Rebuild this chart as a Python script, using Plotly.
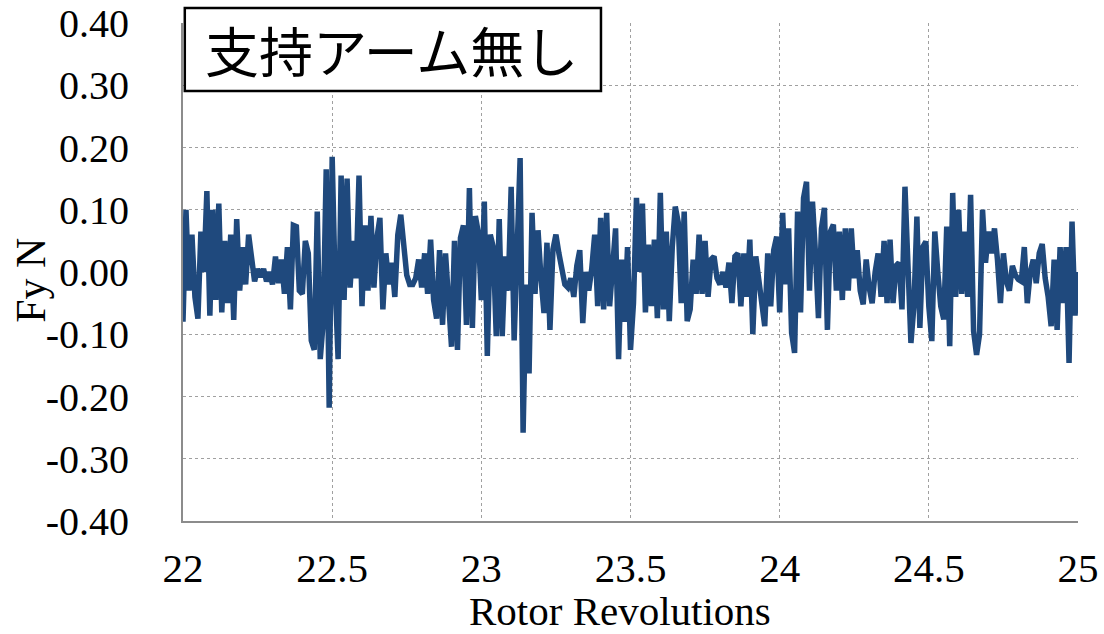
import plotly.graph_objects as go
import numpy as np

# Lateral force Fy [N] sampled every 0.01 rotor revolution from 22.00 to 25.00
REV_START = 22.0
REV_STEP = 0.01
fy = [
    # 22.00 - 22.37
    -0.08, 0.10, -0.03, 0.06, -0.04, -0.075, 0.065, 0.0, 0.13, -0.07,
    0.10, -0.045, 0.11, -0.065, 0.05, -0.05, 0.06, -0.077, 0.085, -0.03,
    0.04, -0.02, 0.06, 0.02, -0.015, 0.005, -0.008, 0.005, -0.015, 0.0,
    -0.02, 0.025, -0.018, 0.02, -0.035, 0.04, -0.06, 0.075,
    # 22.38 - 22.74
    0.073, -0.03, -0.035, 0.05, 0.03, -0.11, -0.125, 0.097, -0.14, -0.08,
    0.165, -0.218, 0.185, -0.02, -0.14, 0.155, -0.045, 0.15, -0.025, 0.05,
    -0.01, 0.155, -0.055, 0.075, -0.03, 0.09, -0.025, 0.055, 0.087, -0.06,
    0.03, -0.02, 0.015, -0.04, 0.06, 0.092, 0.04,
    # 22.75 - 23.11
    -0.005, -0.02, -0.02, -0.01, 0.02, -0.025, 0.03, -0.035, 0.052, -0.045,
    -0.075, 0.035, -0.085, 0.03, -0.045, -0.12, 0.05, -0.125, 0.055, 0.075,
    -0.085, 0.135, -0.09, 0.09, 0.063, -0.045, 0.113, -0.135, 0.06, 0.04,
    -0.103, 0.085, -0.103, 0.025, -0.03, 0.137, -0.11,
    # 23.12 - 23.48
    0.06, 0.183, -0.258, -0.02, -0.163, 0.095, -0.035, 0.067, -0.01, -0.066,
    0.047, -0.093, 0.036, 0.06, 0.03, 0.0, -0.02, -0.025, -0.01, -0.04,
    0.01, 0.035, -0.082, 0.0, -0.03, 0.005, 0.06, -0.055, 0.087, -0.06,
    0.095, -0.055, 0.01, 0.07, -0.14, 0.02, -0.08,
    # 23.49 - 23.85
    0.04, -0.125, -0.05, 0.119, 0.0, 0.11, -0.065, 0.044, -0.055, 0.052,
    -0.074, 0.127, -0.06, 0.065, -0.079, 0.04, 0.105, 0.08, -0.05, 0.097,
    -0.079, -0.06, 0.02, -0.035, 0.06, -0.035, 0.05, -0.04, 0.02, 0.025,
    -0.01, -0.02, 0.0, -0.025, 0.015, -0.05, 0.025,
    # 23.86 - 24.22
    0.03, -0.055, 0.03, -0.04, 0.052, -0.1, 0.025, -0.01, -0.045, -0.087,
    0.03, -0.055, 0.035, 0.057, -0.065, 0.095, -0.02, 0.07, -0.098, -0.13,
    0.097, -0.065, 0.119, 0.145, -0.03, 0.113, 0.03, -0.074, 0.07, 0.103,
    -0.093, 0.065, 0.076, -0.03, 0.065, -0.045, 0.07,
    # 24.23 - 24.58
    -0.03, 0.07, -0.01, 0.035, -0.03, -0.052, 0.02, -0.025, -0.05, 0.0,
    0.03, -0.04, 0.05, -0.05, 0.052, -0.05, 0.01, 0.015, -0.06, 0.137,
    0.025, -0.114, -0.055, 0.089, -0.09, 0.04, 0.049, -0.055, -0.111, 0.065,
    0.0, -0.055, -0.076, 0.073, -0.119, 0.127,
    # 24.59 - 25.00
    -0.04, 0.1, -0.035, 0.065, -0.04, 0.124, -0.095, -0.133, -0.1, 0.1,
    0.015, 0.065, 0.03, 0.07, 0.02, -0.05, 0.03, -0.015, -0.03, 0.01,
    -0.005, -0.012, -0.015, 0.04, -0.05, 0.0, 0.02, -0.018, 0.03, 0.045,
    -0.01, -0.04, -0.087, 0.02, -0.093, 0.04, -0.05, 0.04, -0.146, 0.081,
    -0.07, 0.0,
]
revs = REV_START + REV_STEP * np.arange(len(fy))

x_ticks = [22, 22.5, 23, 23.5, 24, 24.5, 25]
x_ticktext = ["22", "22.5", "23", "23.5", "24", "24.5", "25"]
y_ticks = [-0.4, -0.3, -0.2, -0.1, 0.0, 0.1, 0.2, 0.3, 0.4]
y_ticktext = ["-0.40", "-0.30", "-0.20", "-0.10", "0.00", "0.10", "0.20", "0.30", "0.40"]

panel_title = "支持アーム無し"
x_title = "Rotor Revolutions"
y_title = "Fy N"

SERIF = "Liberation Serif, Times New Roman, serif"
LINE_BLUE = "#1f497d"
GRID = "#a0a0a0"

fig = go.Figure()
fig.add_trace(go.Scatter(
    x=revs, y=fy, mode="lines",
    line=dict(color=LINE_BLUE, width=5.5),
    showlegend=False,
))

fig.update_layout(
    width=1104, height=634,
    margin=dict(l=183, r=26, t=23, b=113, autoexpand=False),
    plot_bgcolor="white", paper_bgcolor="white",
    font=dict(family=SERIF, color="black"),
)
fig.update_xaxes(
    range=[22, 25], tickvals=x_ticks, ticktext=x_ticktext,
    tickfont=dict(family=SERIF, size=41, color="black"),
    showgrid=True, gridcolor=GRID, griddash="dot", gridwidth=1,
    showline=True, linecolor="#8c8c8c", linewidth=2,
    zeroline=False, ticks="", ticklabelstandoff=10, automargin=False,
)
fig.update_yaxes(
    range=[-0.4, 0.4], tickvals=y_ticks, ticktext=y_ticktext,
    tickfont=dict(family=SERIF, size=40, color="black"),
    showgrid=True, gridcolor=GRID, griddash="dot", gridwidth=1,
    showline=True, linecolor="#8c8c8c", linewidth=2,
    zeroline=False, ticks="", ticklabelstandoff=44, automargin=False,
)

# Framed panel label in the upper-left corner
fig.add_shape(
    type="rect", xref="paper", yref="paper",
    x0=0.002, x1=0.467, y0=0.8635, y1=1.030,
    line=dict(color="black", width=2.5), fillcolor="white", layer="above",
)
fig.add_annotation(
    text=panel_title, xref="paper", yref="paper", x=0.2335, y=0.946,
    xanchor="center", yanchor="middle", showarrow=False,
    font=dict(family="Noto Sans CJK JP", size=54, color="black"),
)

# Axis titles
fig.add_annotation(
    text=x_title, xref="paper", yref="paper", x=0.488, y=-0.18,
    xanchor="center", yanchor="middle", showarrow=False,
    font=dict(family=SERIF, size=41, color="black"),
)
fig.add_annotation(
    text=y_title, xref="paper", yref="paper", x=-0.17, y=0.484,
    xanchor="center", yanchor="middle", showarrow=False, textangle=-90,
    font=dict(family=SERIF, size=42, color="black"),
)

fig.write_html("out.html")
